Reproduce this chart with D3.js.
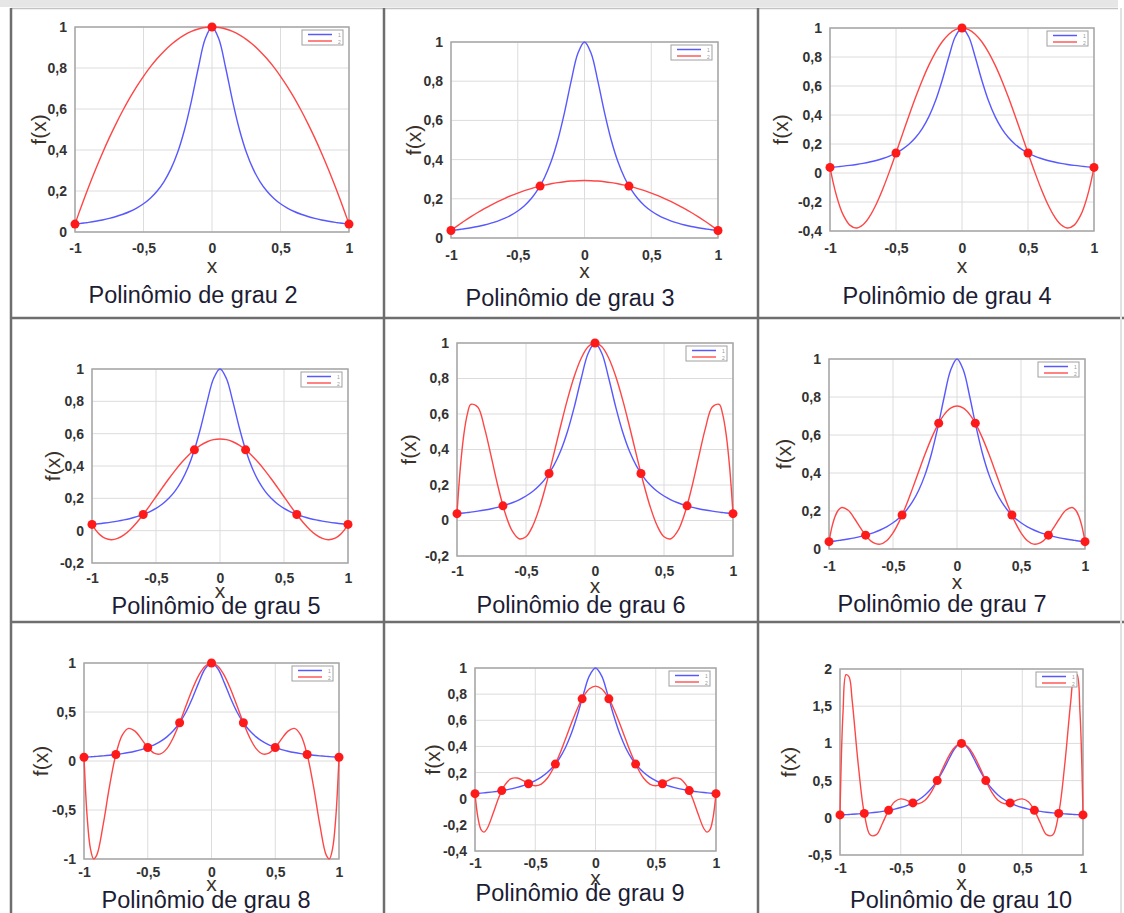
<!DOCTYPE html>
<html>
<head>
<meta charset="utf-8">
<script src="https://cdn.jsdelivr.net/npm/d3@7"></script>
<style>
  body { margin: 0; background: #fff; }
  svg { display: block; }
</style>
</head>
<body>
<div id="chart"></div>
<script>
// sample positions along x
const xs = [-1, -0.975, -0.95, -0.925, -0.9, -0.85, -0.8, -0.75, -0.7, -0.65, -0.6, -0.55, -0.5, -0.45, -0.4, -0.35, -0.3, -0.25, -0.2, -0.15, -0.1, -0.05,
  0, 0.05, 0.1, 0.15, 0.2, 0.25, 0.3, 0.35, 0.4, 0.45, 0.5, 0.55, 0.6, 0.65, 0.7, 0.75, 0.8, 0.85, 0.9, 0.925, 0.95, 0.975, 1];

// blue curve f(x)
const runge = [0.0385, 0.0404, 0.0424, 0.0447, 0.0471, 0.0525, 0.0588, 0.0664, 0.0755, 0.0865, 0.1, 0.1168, 0.1379, 0.1649, 0.2, 0.2462, 0.3077, 0.3902, 0.5, 0.64, 0.8, 0.9412,
  1, 0.9412, 0.8, 0.64, 0.5, 0.3902, 0.3077, 0.2462, 0.2, 0.1649, 0.1379, 0.1168, 0.1, 0.0865, 0.0755, 0.0664, 0.0588, 0.0525, 0.0471, 0.0447, 0.0424, 0.0404, 0.0385];

// red curves, one per degree
const p2 = [0.0385, 0.0859, 0.1322, 0.1773, 0.2212, 0.3053, 0.3846, 0.4591, 0.5288, 0.5937, 0.6538, 0.7091, 0.7596, 0.8053, 0.8462, 0.8822, 0.9135, 0.9399, 0.9615, 0.9784, 0.9904, 0.9976,
  1, 0.9976, 0.9904, 0.9784, 0.9615, 0.9399, 0.9135, 0.8822, 0.8462, 0.8053, 0.7596, 0.7091, 0.6538, 0.5937, 0.5288, 0.4591, 0.3846, 0.3053, 0.2212, 0.1773, 0.1322, 0.0859, 0.0385];
const p3 = [0.0385, 0.0511, 0.0633, 0.0752, 0.0869, 0.1091, 0.1301, 0.1498, 0.1683, 0.1855, 0.2014, 0.2160, 0.2294, 0.2415, 0.2523, 0.2618, 0.2701, 0.2771, 0.2828, 0.2873, 0.2905, 0.2924,
  0.2930, 0.2924, 0.2905, 0.2873, 0.2828, 0.2771, 0.2701, 0.2618, 0.2523, 0.2415, 0.2294, 0.2160, 0.2014, 0.1855, 0.1683, 0.1498, 0.1301, 0.1091, 0.0869, 0.0752, 0.0633, 0.0511, 0.0385];
const p4 = [0.0385, -0.0698, -0.1596, -0.2324, -0.2892, -0.3595, -0.3794, -0.3569, -0.2998, -0.2153, -0.1101, 0.0095, 0.1379, 0.2698, 0.4005, 0.5258, 0.6419, 0.7456, 0.8342, 0.9054, 0.9576, 0.9893,
  1, 0.9893, 0.9576, 0.9054, 0.8342, 0.7456, 0.6419, 0.5258, 0.4005, 0.2698, 0.1379, 0.0095, -0.1101, -0.2153, -0.2998, -0.3569, -0.3794, -0.3595, -0.2892, -0.2324, -0.1596, -0.0698, 0.0385];
const p5 = [0.0385, 0.0081, -0.0157, -0.0337, -0.0460, -0.0558, -0.0481, -0.0260, 0.0078, 0.0506, 0.1, 0.1537, 0.2097, 0.2661, 0.3212, 0.3733, 0.4213, 0.4638, 0.5, 0.5290, 0.5501, 0.5630,
  0.5673, 0.5630, 0.5501, 0.5290, 0.5, 0.4638, 0.4213, 0.3733, 0.3212, 0.2661, 0.2097, 0.1537, 0.1, 0.0506, 0.0078, -0.0260, -0.0481, -0.0558, -0.0460, -0.0337, -0.0157, 0.0081, 0.0385];
const p6 = [0.0385, 0.3049, 0.4870, 0.5993, 0.6546, 0.6396, 0.5191, 0.3523, 0.1824, 0.0391, -0.0590, -0.1030, -0.0914, -0.0285, 0.0773, 0.2143, 0.3696, 0.5297, 0.6813, 0.8128, 0.9142, 0.9782,
  1, 0.9782, 0.9142, 0.8128, 0.6813, 0.5297, 0.3696, 0.2143, 0.0773, -0.0285, -0.0914, -0.1030, -0.0590, 0.0391, 0.1824, 0.3523, 0.5191, 0.6396, 0.6546, 0.5993, 0.4870, 0.3049, 0.0385];
const p7 = [0.0385, 0.1214, 0.1756, 0.2063, 0.2185, 0.2037, 0.1593, 0.1067, 0.0610, 0.0321, 0.0255, 0.0435, 0.0849, 0.1470, 0.2251, 0.3138, 0.4069, 0.4983, 0.5822, 0.6533, 0.7074, 0.7412,
  0.7526, 0.7412, 0.7074, 0.6533, 0.5822, 0.4983, 0.4069, 0.3138, 0.2251, 0.1470, 0.0849, 0.0435, 0.0255, 0.0321, 0.0610, 0.1067, 0.1593, 0.2037, 0.2185, 0.2063, 0.1756, 0.1214, 0.0385];
const p8 = [0.0385, -0.5740, -0.8920, -0.9982, -0.9601, -0.6520, -0.2587, 0.0664, 0.2638, 0.3328, 0.3049, 0.2251, 0.1379, 0.0793, 0.0726, 0.1266, 0.2374, 0.3902, 0.5636, 0.7328, 0.8740, 0.9674,
  1, 0.9674, 0.8740, 0.7328, 0.5636, 0.3902, 0.2374, 0.1266, 0.0726, 0.0793, 0.1379, 0.2251, 0.3049, 0.3328, 0.2638, 0.0664, -0.2587, -0.6520, -0.9601, -0.9982, -0.8920, -0.5740, 0.0385];
const p9 = [0.0385, -0.1479, -0.2359, -0.2553, -0.2298, -0.1137, 0.0148, 0.1084, 0.1540, 0.1581, 0.1377, 0.1122, 0.0995, 0.1122, 0.1566, 0.2330, 0.3356, 0.4546, 0.5774, 0.6907, 0.7820, 0.8411,
  0.8615, 0.8411, 0.7820, 0.6907, 0.5774, 0.4546, 0.3356, 0.2330, 0.1566, 0.1122, 0.0995, 0.1122, 0.1377, 0.1581, 0.1540, 0.1084, 0.0148, -0.1137, -0.2298, -0.2553, -0.2359, -0.1479, 0.0385];
const p10 = [0.0385, 1.4231, 1.9236, 1.8924, 1.5793, 0.7194, 0.0588, -0.2314, -0.2262, -0.0726, 0.1, 0.2156, 0.2538, 0.2350, 0.2, 0.1906, 0.2353, 0.3426, 0.5, 0.6790, 0.8434, 0.9586,
  1, 0.9586, 0.8434, 0.6790, 0.5, 0.3426, 0.2353, 0.1906, 0.2, 0.2350, 0.2538, 0.2156, 0.1, -0.0726, -0.2262, -0.2314, 0.0588, 0.7194, 1.5793, 1.8924, 1.9236, 1.4231, 0.0385];

// interpolation nodes (red dots)
const nodesX2 = [-1, 0, 1];
const nodesY2 = [0.0385, 1, 0.0385];
const nodesX3 = [-1, -0.333, 0.333, 1];
const nodesY3 = [0.0385, 0.2647, 0.2647, 0.0385];
const nodesX4 = [-1, -0.5, 0, 0.5, 1];
const nodesY4 = [0.0385, 0.1379, 1, 0.1379, 0.0385];
const nodesX5 = [-1, -0.6, -0.2, 0.2, 0.6, 1];
const nodesY5 = [0.0385, 0.1, 0.5, 0.5, 0.1, 0.0385];
const nodesX6 = [-1, -0.667, -0.333, 0, 0.333, 0.667, 1];
const nodesY6 = [0.0385, 0.0826, 0.2647, 1, 0.2647, 0.0826, 0.0385];
const nodesX7 = [-1, -0.714, -0.429, -0.143, 0.143, 0.429, 0.714, 1];
const nodesY7 = [0.0385, 0.0727, 0.1788, 0.6622, 0.6622, 0.1788, 0.0727, 0.0385];
const nodesX8 = [-1, -0.75, -0.5, -0.25, 0, 0.25, 0.5, 0.75, 1];
const nodesY8 = [0.0385, 0.0664, 0.1379, 0.3902, 1, 0.3902, 0.1379, 0.0664, 0.0385];
const nodesX9 = [-1, -0.778, -0.556, -0.333, -0.111, 0.111, 0.333, 0.556, 0.778, 1];
const nodesY9 = [0.0385, 0.062, 0.1147, 0.2647, 0.7642, 0.7642, 0.2647, 0.1147, 0.062, 0.0385];
const nodesX10 = [-1, -0.8, -0.6, -0.4, -0.2, 0, 0.2, 0.4, 0.6, 0.8, 1];
const nodesY10 = [0.0385, 0.0588, 0.1, 0.2, 0.5, 1, 0.5, 0.2, 0.1, 0.0588, 0.0385];

// tick values
const xTicks = [-1, -0.5, 0, 0.5, 1];
const yTicks01 = [0, 0.2, 0.4, 0.6, 0.8, 1];
const yTicks02 = [-0.2, 0, 0.2, 0.4, 0.6, 0.8, 1];
const yTicks04 = [-0.4, -0.2, 0, 0.2, 0.4, 0.6, 0.8, 1];
const yTicksM1 = [-1, -0.5, 0, 0.5, 1];
const yTicksM05 = [-0.5, 0, 0.5, 1, 1.5, 2];

const titles = ["Polinômio de grau 2", "Polinômio de grau 3", "Polinômio de grau 4",
  "Polinômio de grau 5", "Polinômio de grau 6", "Polinômio de grau 7",
  "Polinômio de grau 8", "Polinômio de grau 9", "Polinômio de grau 10"];

const W = 1124, H = 913;
const font = "'Liberation Sans', Arial, sans-serif";
const fmt = (d) => String(d).replace(".", ",");

// layout of each cell
const panels = [
  { red: p2, nx: nodesX2, ny: nodesY2, yt: yTicks01, left: 75, right: 349, top: 27, bottom: 232, tickY: 248, xlabY: 265, titleY: 295, titleX: 193, fxX: 38 },
  { red: p3, nx: nodesX3, ny: nodesY3, yt: yTicks01, left: 451, right: 718, top: 42, bottom: 238, tickY: 255, xlabY: 270, titleY: 298, titleX: 570, fxX: 413 },
  { red: p4, nx: nodesX4, ny: nodesY4, yt: yTicks04, left: 830, right: 1094, top: 28, bottom: 231, tickY: 248, xlabY: 265, titleY: 296, titleX: 947, fxX: 780 },
  { red: p5, nx: nodesX5, ny: nodesY5, yt: yTicks02, left: 92, right: 348, top: 369, bottom: 563, tickY: 578, xlabY: 590, titleY: 606, titleX: 216, fxX: 52 },
  { red: p6, nx: nodesX6, ny: nodesY6, yt: yTicks02, left: 457, right: 733, top: 343, bottom: 556, tickY: 571, xlabY: 585, titleY: 605, titleX: 581, fxX: 408 },
  { red: p7, nx: nodesX7, ny: nodesY7, yt: yTicks01, left: 829, right: 1085, top: 359, bottom: 549, tickY: 566, xlabY: 581, titleY: 604, titleX: 942, fxX: 783 },
  { red: p8, nx: nodesX8, ny: nodesY8, yt: yTicksM1, left: 84, right: 339, top: 663, bottom: 859, tickY: 872, xlabY: 883, titleY: 900, titleX: 206, fxX: 40 },
  { red: p9, nx: nodesX9, ny: nodesY9, yt: yTicks04, left: 475, right: 716, top: 668, bottom: 851, tickY: 863, xlabY: 877, titleY: 893, titleX: 580, fxX: 432 },
  { red: p10, nx: nodesX10, ny: nodesY10, yt: yTicksM05, left: 840, right: 1083, top: 669, bottom: 855, tickY: 868, xlabY: 882, titleY: 900, titleX: 961, fxX: 788 }
];

const svg = d3.select("#chart").append("svg").attr("width", W).attr("height", H);
svg.append("rect").attr("width", W).attr("height", H).attr("fill", "#fff");

// table frame
svg.append("rect").attr("x", 0).attr("y", 0).attr("width", 1118).attr("height", 7).attr("fill", "#e6e6e6");
svg.append("line").attr("x1", 11).attr("x2", 1118).attr("y1", 8.5).attr("y2", 8.5).attr("stroke", "#c4c4c4").attr("stroke-width", 1.5);
[11, 384, 758].forEach((x) => {
  svg.append("line").attr("x1", x).attr("x2", x).attr("y1", 8).attr("y2", H)
    .attr("stroke", "#6e6e6e").attr("stroke-width", 2.5);
});
[318, 622].forEach((y) => {
  svg.append("line").attr("x1", 11).attr("x2", W).attr("y1", y).attr("y2", y)
    .attr("stroke", "#6e6e6e").attr("stroke-width", 2.5);
});
svg.append("line").attr("x1", 1121).attr("x2", 1121).attr("y1", 8).attr("y2", H)
  .attr("stroke", "#e2e2e2").attr("stroke-width", 2);

panels.forEach((p, i) => {
  const g = svg.append("g");
  const x = d3.scaleLinear().domain([-1, 1]).range([p.left, p.right]);
  const y = d3.scaleLinear().domain(d3.extent(p.yt)).range([p.bottom, p.top]);

  // grid
  g.selectAll(".gx").data(xTicks).enter().append("line")
    .attr("x1", (d) => x(d)).attr("x2", (d) => x(d))
    .attr("y1", p.top).attr("y2", p.bottom)
    .attr("stroke", "#dcdcdc").attr("stroke-width", 1);
  g.selectAll(".gy").data(p.yt).enter().append("line")
    .attr("x1", p.left).attr("x2", p.right)
    .attr("y1", (d) => y(d)).attr("y2", (d) => y(d))
    .attr("stroke", "#dcdcdc").attr("stroke-width", 1);

  // axes labels
  const xa = g.append("g").attr("transform", `translate(0,${p.bottom})`)
    .call(d3.axisBottom(x).tickValues(xTicks).tickSize(0).tickFormat(fmt));
  xa.select(".domain").remove();
  xa.selectAll("text").attr("y", p.tickY - p.bottom).attr("dy", "0.35em");

  const ya = g.append("g").attr("transform", `translate(${p.left},0)`)
    .call(d3.axisLeft(y).tickValues(p.yt).tickSize(0).tickPadding(8).tickFormat(fmt));
  ya.select(".domain").remove();

  g.selectAll(".tick text")
    .attr("font-family", font).attr("font-size", 14).attr("font-weight", "bold")
    .attr("fill", "#333");

  // frame
  g.append("rect").attr("x", p.left).attr("y", p.top)
    .attr("width", p.right - p.left).attr("height", p.bottom - p.top)
    .attr("fill", "none").attr("stroke", "#a6a6a6").attr("stroke-width", 1.5);

  // curves
  const line = d3.line()
    .x((d, j) => x(xs[j]))
    .y((d) => y(d))
    .curve(d3.curveCatmullRom.alpha(0.5));
  g.append("path").attr("d", line(runge)).attr("fill", "none")
    .attr("stroke", "#5858ff").attr("stroke-width", 1.4);
  g.append("path").attr("d", line(p.red)).attr("fill", "none")
    .attr("stroke", "#ff4646").attr("stroke-width", 1.4);

  g.selectAll(".node").data(p.nx).enter().append("circle")
    .attr("cx", (d) => x(d)).attr("cy", (d, j) => y(p.ny[j]))
    .attr("r", 4.5).attr("fill", "#ff1a1a");

  // legend
  const bx = p.right - 47, by = p.top + 3;
  g.append("rect").attr("x", bx).attr("y", by).attr("width", 41).attr("height", 15)
    .attr("fill", "#fff").attr("stroke", "#a0a0a0").attr("stroke-width", 1);
  g.append("line").attr("x1", bx + 6).attr("x2", bx + 30).attr("y1", by + 4.5).attr("y2", by + 4.5)
    .attr("stroke", "#5858ff").attr("stroke-width", 1.5);
  g.append("line").attr("x1", bx + 6).attr("x2", bx + 30).attr("y1", by + 11).attr("y2", by + 11)
    .attr("stroke", "#ff5a5a").attr("stroke-width", 1.5);
  g.append("text").attr("x", bx + 36).attr("y", by + 7).text("1")
    .attr("font-family", font).attr("font-size", 5).attr("fill", "#999");
  g.append("text").attr("x", bx + 36).attr("y", by + 13.5).text("2")
    .attr("font-family", font).attr("font-size", 5).attr("fill", "#999");

  // axis titles
  g.append("text")
    .attr("transform", `translate(${p.fxX},${(p.top + p.bottom) / 2}) rotate(-90)`)
    .attr("text-anchor", "middle").attr("dominant-baseline", "central")
    .attr("font-family", font).attr("font-size", 21).attr("fill", "#3a3228")
    .text("f(x)");
  g.append("text")
    .attr("x", (p.left + p.right) / 2).attr("y", p.xlabY)
    .attr("text-anchor", "middle").attr("dominant-baseline", "central")
    .attr("font-family", font).attr("font-size", 21).attr("fill", "#3a3228")
    .text("x");
  g.append("text")
    .attr("x", p.titleX).attr("y", p.titleY)
    .attr("text-anchor", "middle").attr("dominant-baseline", "central")
    .attr("font-family", font).attr("font-size", 23.5).attr("fill", "#1c1c34")
    .text(titles[i]);
});
</script>
</body>
</html>
